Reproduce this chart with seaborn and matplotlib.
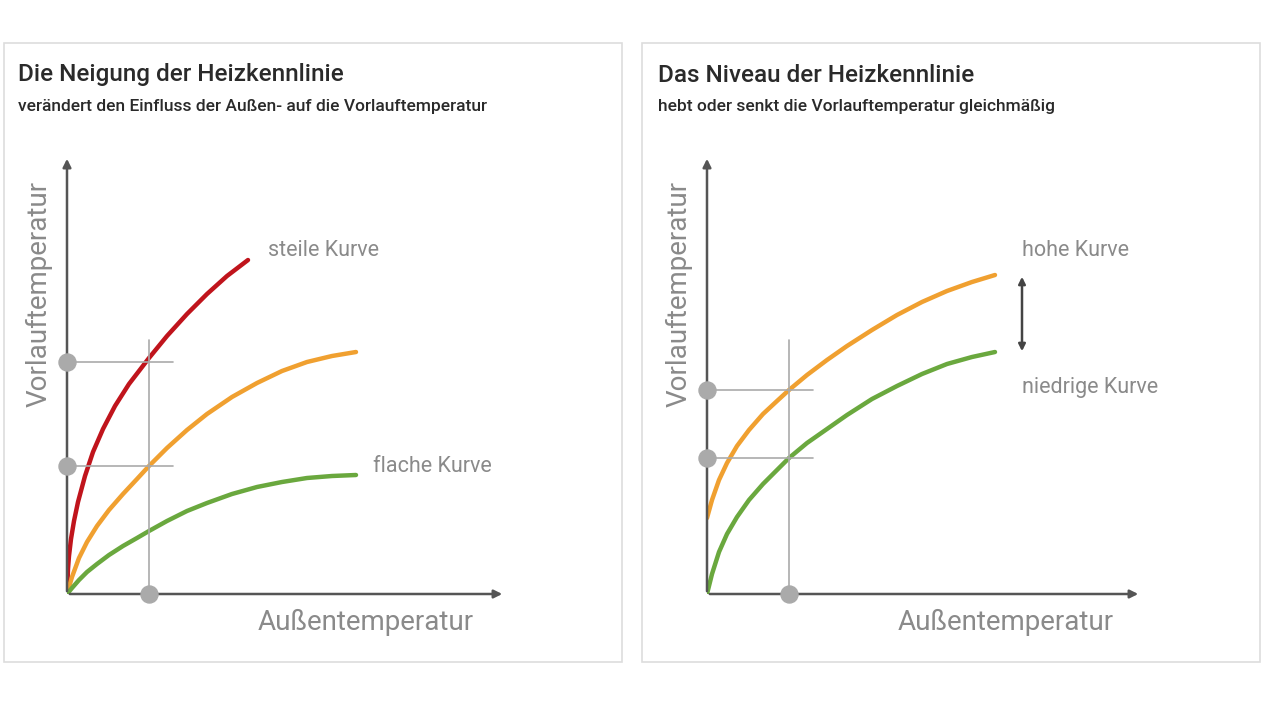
import matplotlib
matplotlib.use("Agg")
import matplotlib.pyplot as plt
import seaborn as sns
from matplotlib.patches import Rectangle

sns.set_theme(style="white")
plt.rcParams['font.family'] = ['Roboto', 'DejaVu Sans']

# curve data (x = outside temp offset, y = flow temp offset)
left_x_red = [0, 1, 2, 4, 7, 11, 18, 26, 36, 48, 62, 82, 100, 120, 140, 160, 181]
left_y_red = [0, 25, 38, 55, 73, 92, 118, 142, 165, 188, 210, 236, 258, 280, 300, 318, 334]
left_x = [0, 5, 12, 20, 30, 42, 56, 70, 82, 100, 120, 140, 165, 190, 215, 240, 265, 289]
left_y_orange = [0, 17, 36, 52, 68, 84, 100, 115, 128, 146, 164, 180, 197, 211, 223, 232, 238, 242]
left_y_green = [0, 6, 14, 22, 30, 39, 48, 56, 63, 73, 83, 91, 100, 107, 112, 116, 118, 119]

right_x = [0, 5, 12, 20, 30, 42, 56, 70, 82, 100, 120, 140, 165, 190, 215, 240, 265, 288]
right_y_orange = [76, 94, 114, 131, 148, 164, 180, 193, 204, 219, 234, 248, 264, 279, 292, 303, 312, 319]
right_y_green = [0, 20, 42, 60, 77, 94, 110, 124, 136, 151, 165, 179, 195, 208, 220, 230, 237, 242]

marker_x = 82
left_marks = [232, 128]
right_marks = [204, 136]

RED, ORANGE, GREEN = "#c0141c", "#f0a030", "#6aa83e"
GRAY = "#8a8a8a"
AX = "#555555"

fig = plt.figure(figsize=(12.8, 7.2), dpi=100)

# panel frames
for x0 in (4, 642):
    fig.patches.append(Rectangle((x0 / 1280, 58 / 720), 618 / 1280, 619 / 720,
                                 transform=fig.transFigure, fill=False,
                                 edgecolor="#dddddd", lw=1.2))

def panel(ox, curves, marks, labels, title, sub):
    ax = fig.add_axes([ox / 1280, 126 / 720, 460 / 1280, 450 / 720])
    ax.set_xlim(0, 460)
    ax.set_ylim(0, 450)
    ax.axis("off")
    for xs, ys, c in curves:
        sns.lineplot(x=xs, y=ys, color=c, lw=3.2, ax=ax, estimator=None, sort=False)
    # axes arrows
    ax.annotate("", xy=(0, 438), xytext=(0, 0),
                arrowprops=dict(arrowstyle="-|>", color=AX, lw=1.8, mutation_scale=12))
    ax.annotate("", xy=(438 if ox < 640 else 434, 0), xytext=(0, 0),
                arrowprops=dict(arrowstyle="-|>", color=AX, lw=1.8, mutation_scale=12))
    # guide lines
    ax.plot([marker_x, marker_x], [0, 254], color="#aaaaaa", lw=1.2)
    for m in marks:
        ax.plot([0, 106], [m, m], color="#aaaaaa", lw=1.2)
        ax.scatter([0], [m], s=150, color="#aaaaaa", zorder=5, clip_on=False)
    ax.scatter([marker_x], [0], s=150, color="#aaaaaa", zorder=5, clip_on=False)
    ax.text(-28, 300, "Vorlauftemperatur", rotation=90, ha="center", va="center",
            fontsize=20, color=GRAY)
    ax.text(299, -28, "Außentemperatur", ha="center", va="center", fontsize=20, color=GRAY)
    for (tx, ty, s) in labels:
        ax.text(tx, ty, s, fontsize=15.5, color=GRAY, va="center")
    fig.text((ox - 49) / 1280, 1 - 75 / 720, title, fontsize=17.5, color="#2a2a2a",
             va="center", fontweight="medium")
    fig.text((ox - 49) / 1280, 1 - 106 / 720, sub, fontsize=12.5, color="#2a2a2a",
             va="center", fontweight="medium")
    return ax

panel(67, [(left_x_red, left_y_red, RED), (left_x, left_y_orange, ORANGE),
           (left_x, left_y_green, GREEN)],
      left_marks,
      [(201, 343, "steile Kurve"), (306, 128, "flache Kurve")],
      "Die Neigung der Heizkennlinie",
      "verändert den Einfluss der Außen- auf die Vorlauftemperatur")

ax2 = panel(707, [(right_x, right_y_orange, ORANGE), (right_x, right_y_green, GREEN)],
            right_marks,
            [(315, 343, "hohe Kurve"), (315, 206, "niedrige Kurve")],
            "Das Niveau der Heizkennlinie",
            "hebt oder senkt die Vorlauftemperatur gleichmäßig")
ax2.annotate("", xy=(315, 320), xytext=(315, 240),
             arrowprops=dict(arrowstyle="<|-|>", color="#444444", lw=1.8, mutation_scale=10))

fig.savefig("out.png", dpi=100, facecolor="white")
